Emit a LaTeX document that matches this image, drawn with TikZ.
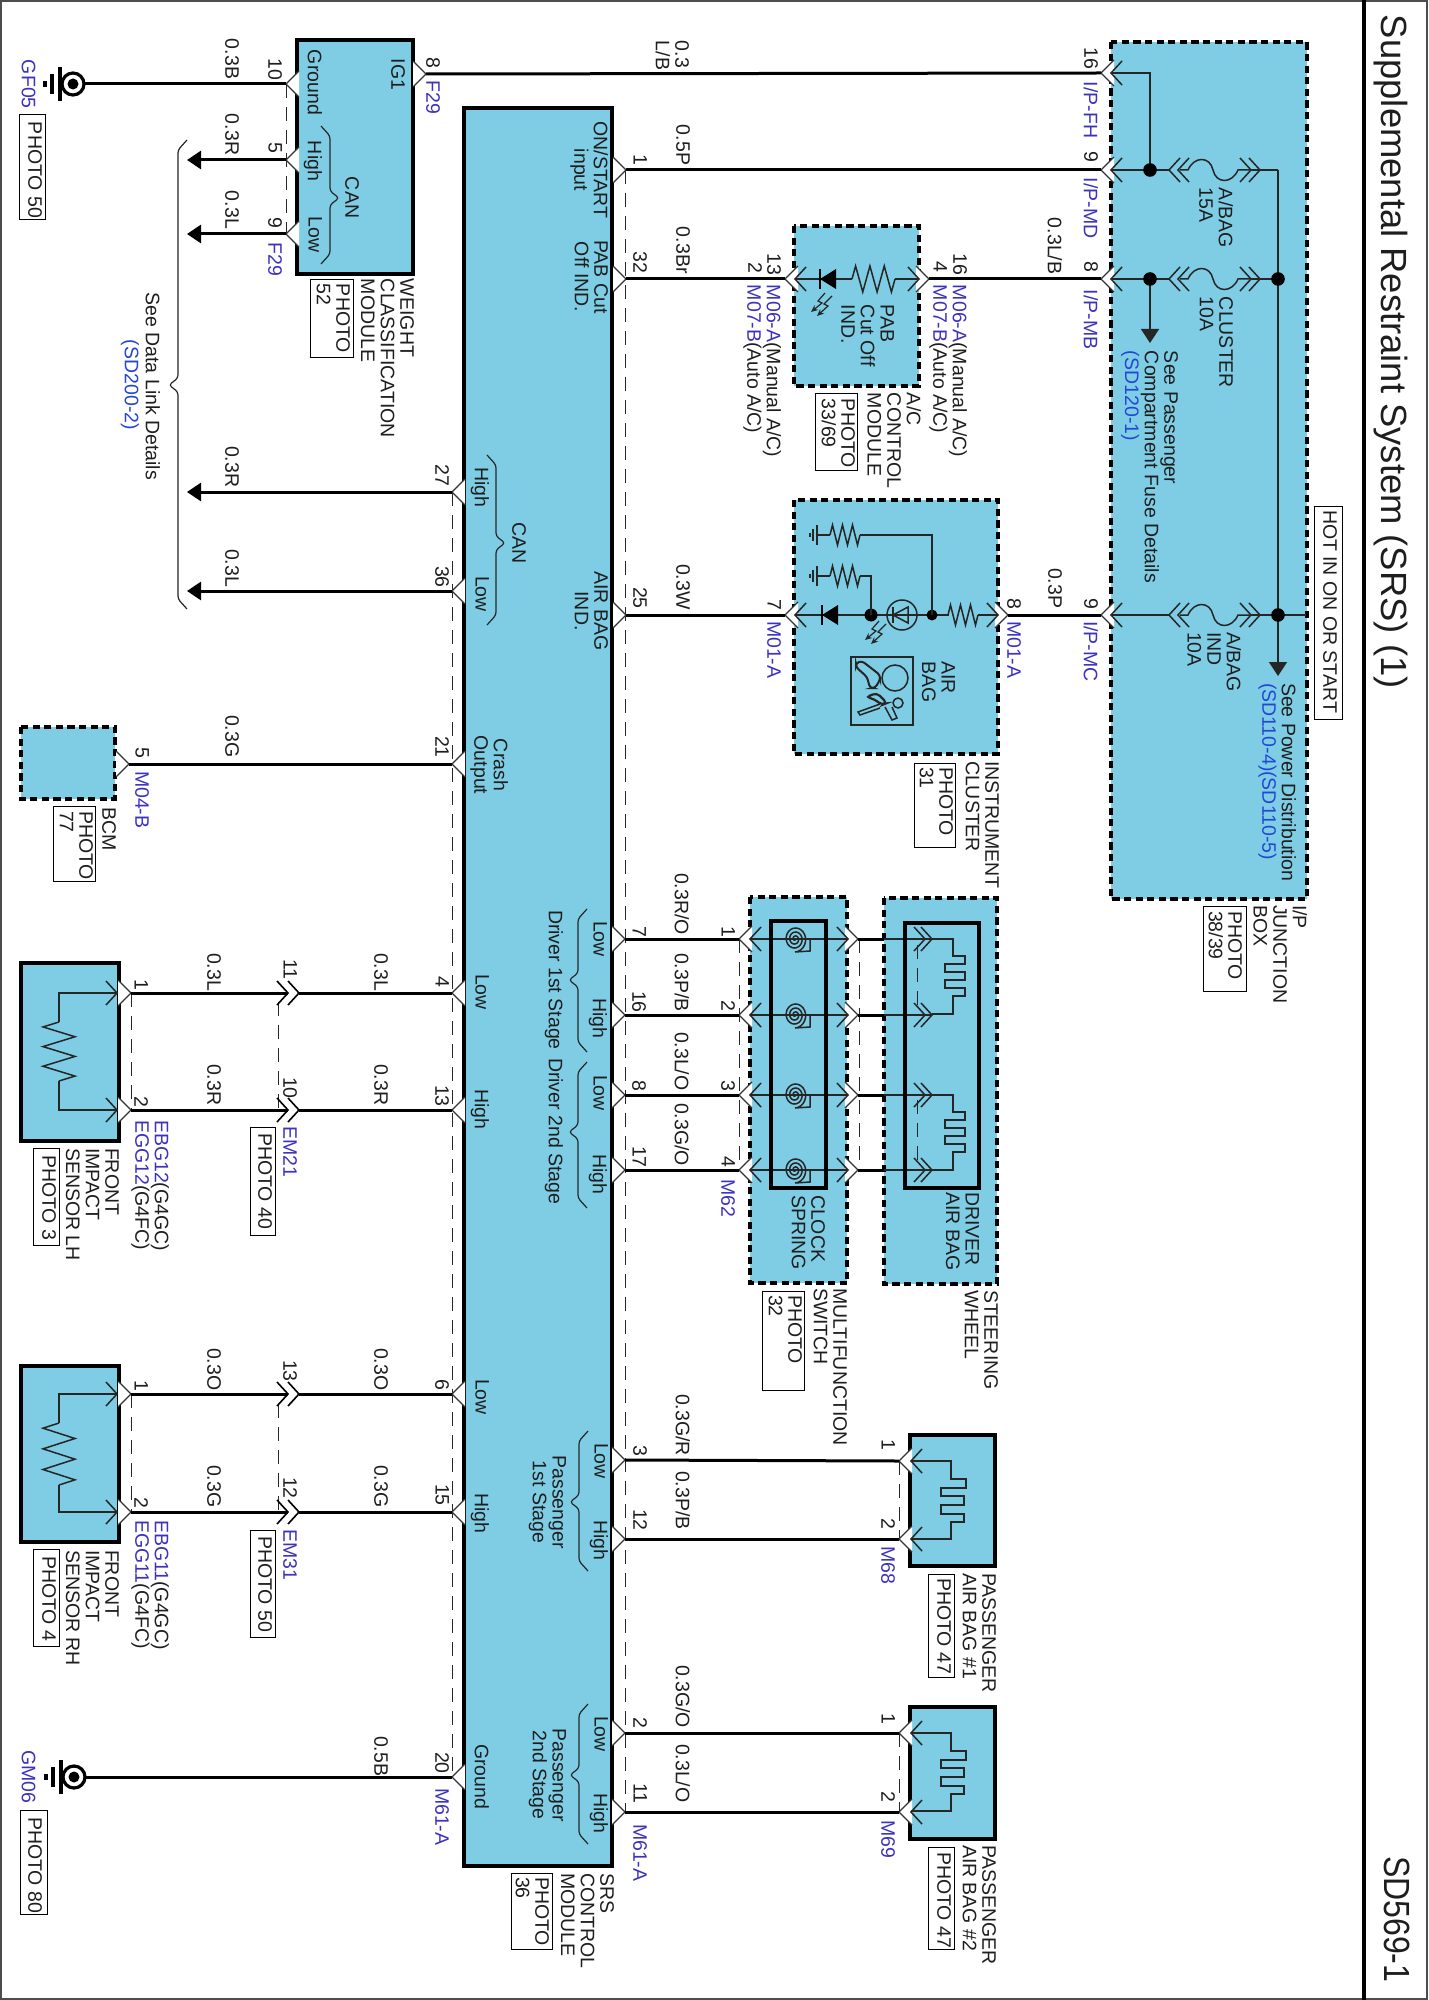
\documentclass[tikz,border=0pt]{standalone}
\usepackage{fontspec}
\setmainfont{Liberation Sans}
\usetikzlibrary{arrows.meta}
\definecolor{modfill}{RGB}{126,205,228}
\definecolor{ink}{RGB}{30,30,30}
\definecolor{codeblue}{RGB}{60,50,190}
\definecolor{linkblue}{RGB}{35,70,215}
\newcounter{lblc}
\tikzset{
  txt/.style={inner sep=0pt,outer sep=0pt,rotate=-90,anchor=north west,text=ink,font=\fontsize{9.75}{9.8}\selectfont},
  blu/.style={text=codeblue},
  lnk/.style={text=linkblue},
  wire/.style={line width=1.5pt,black},
  inwire/.style={line width=.75pt,black!85},
  fine/.style={line width=.6pt,black!85},
  dashl/.style={line width=.5pt,black!85,dash pattern=on 7pt off 4.5pt},
  solidbox/.style={line width=1.8pt,black,fill=modfill},
  dashbox/.style={line width=1.9pt,black,fill=modfill,dash pattern=on 3.6pt off 2.2pt},
  innerbox/.style={line width=1.8pt,black},
  pinst/.style={line width=.6pt,black!80,fill=white},
  photobox/.style={line width=.5pt,black,fill=white},
  fat/.style={wire,-{Triangle[length=7pt,width=9pt]}},
  fatin/.style={inwire,-{Triangle[length=7pt,width=9pt]}}
}
% text
\newcommand\tx[4][]{\stepcounter{lblc}\node[txt,#1] (t\arabic{lblc}) at (#2,#3) {#4};}
\newcommand\tc[4][]{\stepcounter{lblc}\node[txt,anchor=north,align=center,#1] (t\arabic{lblc}) at (#2,#3) {#4};}
\newcommand\tm[3]{\tx[align=left]{#1}{#2}{#3}}
\newcommand\tb[3]{\tx[blu]{#1}{#2}{#3}}
\newcommand\photo[7]{\draw[photobox] (#1,#2) rectangle (#3,#4);\tm{#5}{#6}{#7}}
% pins: filled chevrons, tip at (x,y)
\newcommand\pinR[3]{\coordinate (#1) at (#2,#3);\draw[pinst] (#2-13,#3-13) -- (#2,#3) -- (#2-13,#3+13);}
\newcommand\pinL[3]{\coordinate (#1) at (#2,#3);\draw[pinst] (#2+13,#3-13) -- (#2,#3) -- (#2+13,#3+13);}
% open chevrons
\newcommand\chevL[2]{\draw[inwire] (#1+11,#2-12) -- (#1,#2) -- (#1+11,#2+12);}
\newcommand\chevR[2]{\draw[inwire] (#1-11,#2-12) -- (#1,#2) -- (#1-11,#2+12);}
% braces
\newcommand\bracev[5]{\draw[fine,rounded corners=1.5pt] ({#1-(#5)*9},#2) -- (#1,#2+10) -- (#1,#3-7) -- ({#1+(#5)*9},#3) -- (#1,#3+7) -- (#1,#4-10) -- ({#1-(#5)*9},#4);}
% resistors
\newcommand\resH[4]{\draw[inwire] (#1,#3) -- ++({(#2-#1)/12},-#4) -- ++({(#2-#1)/6},2*#4) -- ++({(#2-#1)/6},-2*#4) -- ++({(#2-#1)/6},2*#4) -- ++({(#2-#1)/6},-2*#4) -- ++({(#2-#1)/6},2*#4) -- ++({(#2-#1)/12},-#4);}
\newcommand\resV[4]{\draw[inwire] (#3,#1) -- ++(-#4,{(#2-#1)/12}) -- ++(2*#4,{(#2-#1)/6}) -- ++(-2*#4,{(#2-#1)/6}) -- ++(2*#4,{(#2-#1)/6}) -- ++(-2*#4,{(#2-#1)/6}) -- ++(2*#4,{(#2-#1)/6}) -- ++(-#4,{(#2-#1)/12});}
% diode: bar at x (tip), base at x+16
\newcommand\diodeL[2]{\fill[black] (#1,#2) -- (#1+16,#2-10) -- (#1+16,#2+10) -- cycle;\draw[line width=.9pt,black] (#1,#2-10) -- (#1,#2+10);}
\newcommand\lit[2]{\draw[fine,-{Stealth[length=3.5pt,width=3pt]}] (#1+20,#2) -- (#1+12,#2+8) -- (#1+16,#2+10) -- (#1+5,#2+20);\draw[fine,-{Stealth[length=3.5pt,width=3pt]}] (#1+13,#2-3) -- (#1+6,#2+5) -- (#1+10,#2+7) -- (#1-1,#2+16);}
% chassis ground
\newcommand\gndsym[2]{\draw[line width=1.6pt,fill=white] (#1,#2) circle (11);\fill (#1,#2) circle (5.5);
  \draw[line width=1.6pt] (#1-13,#2-17) -- (#1-13,#2+17);\draw[line width=1.6pt] (#1-21,#2-10) -- (#1-21,#2+10);\draw[line width=1.8pt] (#1-28,#2-3) -- (#1-28,#2+3);}
% small ground for the cluster
\newcommand\gndsmall[2]{\draw[fine] (#1,#2-10) -- (#1,#2+10);\draw[fine] (#1-4,#2-6) -- (#1-4,#2+6);\draw[fine] (#1-7,#2-2) -- (#1-7,#2+2);}
% fuse on I/P box row
\newcommand\fuse[1]{\chevL{1169}{#1}\chevL{1178}{#1}\chevR{1251}{#1}\chevR{1260}{#1}
  \draw[inwire] (1180,#1) -- (1188,#1) .. controls (1194,#1-14) and (1210,#1-14) .. (1213,#1) .. controls (1216,#1+14) and (1232,#1+14) .. (1238,#1) -- (1252,#1);}
% clock spring
\newcommand\spring[2]{\draw[inwire] plot[domain=60:1170,samples=70,smooth] ({#1+11.5*\x/1170*cos(\x)},{#2+13*\x/1170*sin(\x)}) -- (#1+15,#2+12) -- (#1+15,#2);}
% squib inside air bags
\newcommand\squibA[1]{\draw[inwire] (932,#1) -- (953,#1) -- (953,#1+17) -- (965,#1+17) -- (965,#1+25) -- (945,#1+25) -- (945,#1+33) -- (965,#1+33) -- (965,#1+41) -- (945,#1+41) -- (945,#1+49) -- (965,#1+49) -- (965,#1+57) -- (953,#1+57) -- (953,#1+75) -- (932,#1+75);}
\newcommand\squibB[1]{\draw[inwire] (911,#1) -- (951,#1) -- (951,#1+18) -- (966,#1+18) -- (966,#1+27) -- (941,#1+27) -- (941,#1+35) -- (964,#1+35) -- (964,#1+44) -- (941,#1+44) -- (941,#1+53) -- (964,#1+53) -- (964,#1+61) -- (951,#1+61) -- (951,#1+78) -- (911,#1+78);}
\begin{document}
\begin{tikzpicture}[x=.5pt,y=-.5pt]
\useasboundingbox (0,0) rectangle (1428,2000);
\fill[white] (0,0) rectangle (1428,2000);
\draw[line width=.6pt,black!70] (1,1) rectangle (1427,1999);
\draw[line width=2.2pt,black] (1364,0) -- (1364,2000);
% titles
\tx[font=\fontsize{18.2}{20}\selectfont]{1408}{15}{Supplemental Restraint System (SRS) (1)}
\tx[font=\fontsize{18.2}{20}\selectfont]{1410}{1856}{\scalebox{.88}[1]{SD569-1}}
% ---------- boxes
\draw[solidbox] (297,40) rectangle (413,274);
\draw[solidbox] (464,108) rectangle (612,1866);
\draw[dashbox] (1111,42) rectangle (1307,899);
\draw[dashbox] (794,226) rectangle (919,386);
\draw[dashbox] (794,500) rectangle (998,754);
\draw[dashbox] (21,727) rectangle (115,799);
\draw[dashbox] (750,897) rectangle (847,1283);
\draw[dashbox] (884,898) rectangle (997,1284);
\draw[solidbox] (21,963) rectangle (119,1141);
\draw[solidbox] (21,1366) rectangle (119,1542);
\draw[solidbox] (910,1435) rectangle (995,1566);
\draw[solidbox] (910,1707) rectangle (995,1839);
% ---------- dashed shields
\draw[dashl] (286,84) -- (286,234);
\draw[dashl] (625,170) -- (625,1812);
\draw[dashl] (452,492) -- (452,1777);
\draw[dashl] (131,993) -- (131,1110);
\draw[dashl] (131,1394) -- (131,1512);
\draw[dashl] (278,1002) -- (278,1110);
\draw[dashl] (278,1404) -- (278,1512);
\draw[dashl] (739,939) -- (739,1170);
\draw[dashl] (859,939) -- (859,1170);
\draw[dashl] (917,945) -- (917,1010);
\draw[dashl] (917,1100) -- (917,1165);
\draw[dashl] (899,1461) -- (899,1539);
\draw[dashl] (899,1733) -- (899,1812);
% ---------- pins
\pinL{wg}{286}{84}\pinL{wh}{286}{160}\pinL{wl}{286}{234}\pinR{wi}{426}{74}
\pinR{s1}{626}{170}\pinR{s32}{626}{279}\pinR{s25}{626}{615}
\pinR{s7}{625}{939}\pinR{s16}{625}{1015}\pinR{s8}{625}{1095}\pinR{s17}{625}{1170}
\pinR{s3}{625}{1460}\pinR{s12}{625}{1539}\pinR{s2}{625}{1733}\pinR{s11}{625}{1812}
\pinL{s27}{452}{492}\pinL{s36}{452}{591}\pinL{s21}{452}{764}\pinL{s4}{452}{993}\pinL{s13}{452}{1110}
\pinL{s6}{452}{1394}\pinL{s15}{452}{1512}\pinL{s20}{452}{1777}
\pinL{jf}{1101}{73}\pinL{jd}{1101}{170}\pinL{jb}{1101}{279}\pinL{jc}{1101}{615}
\pinL{ac1}{785}{279}\pinR{ac2}{929}{279}\pinL{ic1}{785}{615}\pinR{ic2}{1008}{615}
\pinR{bcm}{129}{764}
\pinR{lh1}{131}{993}\pinR{lh2}{131}{1110}\pinR{rh1}{131}{1394}\pinR{rh2}{131}{1512}
\pinL{cl1}{739}{939}\pinL{cl2}{739}{1015}\pinL{cl3}{739}{1095}\pinL{cl4}{739}{1170}
\pinR{cr1}{858}{939}\pinR{cr2}{858}{1015}\pinR{cr3}{858}{1095}\pinR{cr4}{858}{1170}
\pinL{pa1}{899}{1461}\pinL{pa2}{899}{1539}\pinL{pb1}{899}{1733}\pinL{pb2}{899}{1812}
% in-line connectors
\coordinate (m11a) at (288,993);\coordinate (m11b) at (299,993);
\coordinate (m10a) at (288,1110);\coordinate (m10b) at (299,1110);
\coordinate (m13a) at (288,1394);\coordinate (m13b) at (299,1394);
\coordinate (m12a) at (288,1512);\coordinate (m12b) at (299,1512);
\foreach \yy in {993,1110,1394,1512}{\draw[line width=.8pt,black] (288-11,\yy-12) -- (288,\yy) -- (288-11,\yy+12);\draw[line width=.8pt,black] (299-11,\yy-12) -- (299,\yy) -- (299-11,\yy+12);}
% free ends
\coordinate (gf) at (84,84);\coordinate (gm) at (85,1777);
\coordinate (a1) at (187,160);\coordinate (a2) at (187,234);\coordinate (a3) at (187,492);\coordinate (a4) at (187,591);
\coordinate (st1) at (884,939);\coordinate (st2) at (884,1015);\coordinate (st3) at (884,1095);\coordinate (st4) at (884,1170);
% ---------- wires
\draw[wire] (wg) -- (gf);
\draw[wire] (gm) -- (s20);
\draw[wire] (wi) -- (jf);
\draw[wire] (s1) -- (jd);
\draw[wire] (s32) -- (ac1);
\draw[wire] (ac2) -- (jb);
\draw[wire] (s25) -- (ic1);
\draw[wire] (ic2) -- (jc);
\draw[fat] (wh) -- (a1);
\draw[fat] (wl) -- (a2);
\draw[fat] (s27) -- (a3);
\draw[fat] (s36) -- (a4);
\draw[wire] (bcm) -- (s21);
\draw[wire] (lh1) -- (m11a);\draw[wire] (m11b) -- (s4);
\draw[wire] (lh2) -- (m10a);\draw[wire] (m10b) -- (s13);
\draw[wire] (rh1) -- (m13a);\draw[wire] (m13b) -- (s6);
\draw[wire] (rh2) -- (m12a);\draw[wire] (m12b) -- (s15);
\draw[wire] (s7) -- (cl1);\draw[wire] (s16) -- (cl2);\draw[wire] (s8) -- (cl3);\draw[wire] (s17) -- (cl4);
\draw[wire] (cr1) -- (st1);\draw[wire] (cr2) -- (st2);\draw[wire] (cr3) -- (st3);\draw[wire] (cr4) -- (st4);
\draw[wire] (s3) -- (pa1);\draw[wire] (s12) -- (pa2);\draw[wire] (s2) -- (pb1);\draw[wire] (s11) -- (pb2);
% ---------- grounds
\gndsym{73}{84}
\gndsym{74}{1777}
% ---------- I/P junction box internals
\chevL{1111}{73}\chevL{1111}{170}\chevL{1111}{279}\chevL{1111}{615}
\coordinate (d15) at (1150,170);\coordinate (d10) at (1150,279);
\coordinate (busa) at (1278,170);\coordinate (busb) at (1278,279);\coordinate (busc) at (1278,615);\coordinate (busend) at (1278,676);
\coordinate (seep) at (1150,343);
\draw[inwire] (1111,73) -- (1150,73) -- (d15);
\draw[inwire] (1111,170) -- (1170,170);
\draw[inwire] (1111,279) -- (1170,279);
\draw[inwire] (1111,615) -- (1170,615);
\fuse{170}\fuse{279}\fuse{615}
\draw[inwire] (1252,170) -- (busa);
\draw[inwire] (1252,279) -- (busb);
\draw[inwire] (1252,615) -- (1306,615);
\draw[fatin] (busa) -- (busend);
\draw[fatin] (d10) -- (seep);
\foreach \p in {d15,d10,busb,busc}{\fill (\p) circle (6.8);}
% ---------- A/C module
\chevL{795}{279}\chevR{919}{279}
\draw[inwire] (795,279) -- (852,279);
\resH{852}{895}{279}{13}
\draw[inwire] (895,279) -- (919,279);
\diodeL{820}{279}
\lit{812}{296}
% ---------- Cluster
\chevL{795}{615}\chevR{998}{615}
\draw[inwire] (795,615) -- (949,615);
\diodeL{822}{615}
\draw[inwire,fill=modfill] (902,615) circle (15);
\draw[inwire] (887,615) -- (932,615);
\draw[inwire] (893,615) -- (908,607) -- (908,623) -- cycle;
\draw[inwire] (893,607) -- (893,623);
\fill (871,615) circle (6.5);\fill (932,615) circle (5.5);
\resH{948}{978}{615}{10}
\draw[inwire] (978,615) -- (998,615);
\draw[inwire] (871,615) -- (871,576) -- (860,576);
\resH{830}{860}{576}{10}
\draw[inwire] (817,576) -- (830,576);
\gndsmall{817}{576}
\draw[inwire] (932,615) -- (932,535) -- (860,535);
\resH{830}{860}{535}{10}
\draw[inwire] (817,535) -- (830,535);
\gndsmall{817}{535}
\lit{866}{624}
% air bag icon
\draw[inwire] (851,657) rectangle (913,725);
\draw[inwire] (895,678) circle (13);
\draw[line width=1pt,black!85,rounded corners=1.5pt] (856,663) -- (862,661) -- (880,675) -- (880,680) -- (875,688) -- (870,688) -- (867,677) -- (856,667) -- cycle;
\draw[inwire] (898,703) circle (5);
\draw[line width=1.1pt,black!85,rounded corners=2pt] (866,697) -- (877,693) -- (887,703) -- (882,705) -- (874,699) -- cycle;
\draw[inwire] (892,707) -- (897,718) -- (892,720) -- (885,707);
\draw[inwire] (880,704) -- (858,712) -- (860,715) -- (880,708);
% ---------- sensors
\foreach \ya/\yb/\ra/\rb in {993/1110/1022/1081,1394/1512/1423/1485}{
  \chevR{117}{\ya}\chevR{117}{\yb}
  \draw[inwire] (117,\ya) -- (59,\ya) -- (59,\ra);
  \draw[inwire] (117,\yb) -- (59,\yb) -- (59,\rb);
  \resV{\ra}{\rb}{59}{16}
}
% ---------- clock spring
\foreach \yy in {939,1015,1095,1170}{
  \draw[inwire] (750,\yy) -- (848,\yy);
  \chevL{750}{\yy}\chevR{848}{\yy}
  \spring{795}{\yy}
}
\draw[innerbox] (771,921) rectangle (826,1188);
% ---------- driver air bag
\foreach \yy in {939,1015,1095,1170}{
  \draw[inwire] (884,\yy) -- (932,\yy);
  \chevR{925}{\yy}\chevR{932}{\yy}
}
\squibA{939}
\squibA{1095}
\draw[innerbox] (905,923) rectangle (979,1188);
% ---------- passenger air bags
\foreach \yy in {1461,1539,1733,1812}{\chevL{911}{\yy}}
\squibB{1461}
\squibB{1733}
% ---------- braces
\bracev{330}{126}{198}{264}{1}
\bracev{496}{455}{543}{625}{1}
\bracev{178}{140}{385}{609}{-1}
\bracev{578}{909}{980}{1052}{-1}
\bracev{578}{1062}{1132}{1208}{-1}
\bracev{579}{1431}{1502}{1571}{-1}
\bracev{579}{1704}{1775}{1844}{-1}
% ---------- left column texts
\tb{35.5}{60}{GF05}
\photo{19}{115}{45.5}{220}{42}{122}{PHOTO 50}
\tb{35.5}{1750}{GM06}
\photo{20.5}{1810}{47}{1914}{42}{1817}{PHOTO 80}
\tx{239}{39}{0.3B}\tx{239}{114}{0.3R}\tx{239}{191}{0.3L}
\tx{239}{446}{0.3R}\tx{239}{549}{0.3L}\tx{239}{715}{0.3G}
\tx{282}{59}{10}\tx{282}{143}{5}\tx{282}{218}{9}\tb{282}{243}{F29}
\tx{440}{58}{8}\tb{440}{81}{F29}
\tx{322}{50}{Ground}\tx{405}{59}{IG1}\tx{322}{141}{High}\tx{322}{217}{Low}\tx{359}{177}{CAN}
\tm{414}{279}{WEIGHT\\CLASSIFICATION\\MODULE}
\photo{310}{280}{353}{358}{350}{284}{PHOTO\\52}
\tx{160}{292.5}{See Data Link Details}
\tx[lnk]{139}{340}{(SD200-2)}
% SRS texts
\tc{608}{170}{ON/START\\input}
\tc{608}{277}{PAB Cut\\Off IND.}
\tc{608}{611}{AIR BAG\\IND.}
\tx{489}{467}{High}\tx{489}{576}{Low}\tx{526}{522}{CAN}
\tc{508}{765}{Crash\\Output}
\tx{489}{974}{Low}\tx{489}{1089}{High}\tx{489}{1379}{Low}\tx{489}{1493}{High}\tx{489}{1744}{Ground}
\tx{607}{921}{Low}\tx{607}{998}{High}\tx{607}{1075}{Low}\tx{607}{1154}{High}
\tx{563}{910}{Driver 1st Stage}\tx{563}{1058}{Driver 2nd Stage}
\tx{608}{1443}{Low}\tx{608}{1520}{High}\tx{608}{1716}{Low}\tx{608}{1793}{High}
\tc{566}{1502}{Passenger\\1st Stage}
\tc{566}{1775}{Passenger\\2nd Stage}
\tm{614}{1873}{SRS\\CONTROL\\MODULE}
\photo{511}{1873}{552}{1949}{549}{1877}{PHOTO\\36}
% SRS pin numbers
\tx{449}{465}{27}\tx{449}{566}{36}\tx{449}{736}{21}\tx{449}{976}{4}\tx{449}{1085}{13}\tx{449}{1379}{6}\tx{449}{1484}{15}\tx{449}{1752}{20}
\tb{449}{1788}{M61-A}
\tx{647}{155}{1}\tx{647}{252}{32}\tx{647}{587}{25}\tx{646}{926}{7}\tx{646}{991}{16}\tx{646}{1080}{8}\tx{646}{1146}{17}
\tx{647}{1445}{3}\tx{647}{1509}{12}\tx{647}{1717}{2}\tx{647}{1783}{11}
\tb{647}{1824}{M61-A}
% wire labels right of SRS
\tm{689}{41}{0.3\\L/B}
\tx{690}{125}{0.5P}\tx{690}{227}{0.3Br}\tx{690}{564}{0.3W}
\tx{689}{873}{0.3R/O}\tx{689}{953}{0.3P/B}\tx{689}{1032}{0.3L/O}\tx{689}{1103}{0.3G/O}
\tx{690}{1394}{0.3G/R}\tx{690}{1471}{0.3P/B}\tx{690}{1665}{0.3G/O}\tx{690}{1744}{0.3L/O}
% BCM
\tx{149}{747}{5}\tb{149}{771}{M04-B}
\tx{116}{807}{BCM}
\photo{53}{806}{95}{881}{93}{811}{PHOTO\\77}
% sensor LH
\tx{148}{979}{1}\tx{148}{1096}{2}
\tm{169}{1120}{\textcolor{codeblue}{EBG12}(G4GC)\\\textcolor{codeblue}{EGG12}(G4FC)}
\tm{119}{1148}{FRONT\\IMPACT\\SENSOR LH}
\photo{33}{1148}{59}{1245}{56}{1155}{PHOTO 3}
\tx{221}{953}{0.3L}\tx{388}{953}{0.3L}\tx{221}{1064}{0.3R}\tx{388}{1064}{0.3R}
\tx{297}{959}{11}\tx{297}{1077}{10}\tb{297}{1126}{EM21}
\photo{250}{1127}{275.5}{1235}{272}{1133}{PHOTO 40}
% sensor RH
\tx{148}{1380}{1}\tx{148}{1497}{2}
\tm{169}{1520}{\textcolor{codeblue}{EBG11}(G4GC)\\\textcolor{codeblue}{EGG11}(G4FC)}
\tm{119}{1550}{FRONT\\IMPACT\\SENSOR RH}
\photo{33}{1549}{59}{1646}{56}{1556}{PHOTO 4}
\tx{221}{1348}{0.3O}\tx{388}{1348}{0.3O}\tx{221}{1465}{0.3G}\tx{388}{1465}{0.3G}
\tx{297}{1360}{13}\tx{297}{1477}{12}\tb{297}{1529}{EM31}
\photo{250}{1530}{275.5}{1637}{272}{1536}{PHOTO 50}
\tx{388}{1736}{0.5B}
% A/C
\tx{781}{254}{13}\tx{762}{263}{2}
\tm{781}{285}{\textcolor{codeblue}{M06-A}(Manual A/C)\\\textcolor{codeblue}{M07-B}(Auto A/C)}
\tx{967}{254}{16}\tx{947}{262}{4}
\tm{967}{285}{\textcolor{codeblue}{M06-A}(Manual A/C)\\\textcolor{codeblue}{M07-B}(Auto A/C)}
\tm{894}{305}{PAB\\Cut Off\\IND.}
\tm{921}{393}{A/C\\CONTROL\\MODULE}
\photo{815}{394}{857}{471}{855}{399}{PHOTO\\33/69}
% cluster
\tx{781}{599}{7}\tb{781}{621}{M01-A}\tx{1021}{598}{8}\tb{1021}{621}{M01-A}
\tm{955}{661}{AIR\\BAG}
\tm{999}{761}{INSTRUMENT\\CLUSTER}
\photo{914}{763}{955}{847}{953}{767}{PHOTO\\31}
% I/P box
\tx{1062}{218}{0.3L/B}\tx{1062}{568}{0.3P}
\tx{1098}{48}{16}\tb{1098}{82}{I/P-FH}\tx{1098}{152}{9}\tb{1098}{178}{I/P-MD}\tx{1098}{262}{8}\tb{1098}{290}{I/P-MB}\tx{1098}{598}{9}\tb{1098}{621}{I/P-MC}
\tm{1233}{188}{A/BAG\\15A}
\tm{1233}{297}{CLUSTER\\10A}
\tm{1241}{632}{A/BAG\\IND\\10A}
\tm{1178}{351}{See Passenger\\Compartment Fuse Details\\\textcolor{linkblue}{(SD120-1)}}
\tm{1296}{683}{See Power Distribution\\\textcolor{linkblue}{(SD110-4)(SD110-5)}}
\photo{1314}{506}{1342}{719}{1337}{510}{HOT IN ON OR START}
\tm{1307}{905}{I/P\\JUNCTION\\BOX}
\photo{1203}{906}{1246}{991}{1242}{911}{PHOTO\\38/39}
% clock + steering
\tx{735}{926}{1}\tx{735}{1000}{2}\tx{735}{1080}{3}\tx{735}{1156}{4}\tb{735}{1179}{M62}
\tm{825}{1195}{CLOCK\\SPRING}
\tm{979}{1192}{DRIVER\\AIR BAG}
\tm{847}{1288}{MULTIFUNCTION\\SWITCH}
\photo{762}{1291}{804}{1390}{802}{1295}{PHOTO\\32}
\tm{998}{1290}{STEERING\\WHEEL}
% passenger bags
\tx{895}{1439}{1}\tx{895}{1518}{2}\tb{895}{1546}{M68}
\tm{996}{1573}{PASSENGER\\AIR BAG \#1}
\photo{928}{1574}{954}{1677}{951}{1578}{PHOTO 47}
\tx{895}{1713}{1}\tx{895}{1791}{2}\tb{895}{1820}{M69}
\tm{996}{1845}{PASSENGER\\AIR BAG \#2}
\photo{928}{1847}{954}{1949}{951}{1852}{PHOTO 47}
\end{tikzpicture}
\end{document}
